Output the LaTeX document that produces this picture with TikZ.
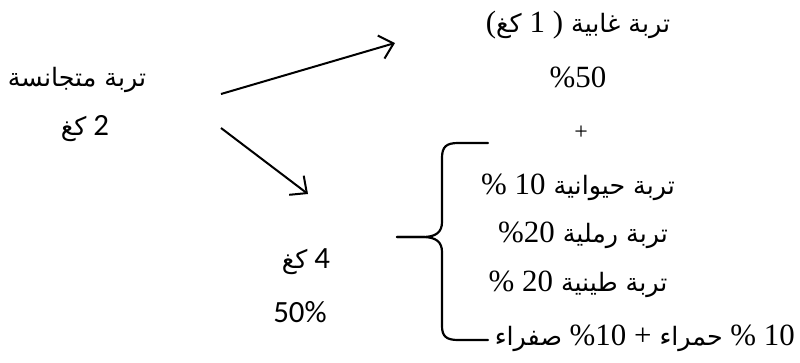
\documentclass[tikz,border=0pt]{standalone}
\usepackage{fontspec}
\setmainfont{Liberation Serif}
\newfontfamily\arf[Script=Arabic,Scale=0.82]{DejaVu Sans}
\newfontfamily\sansdig{Carlito}
\TeXXeTstate=1
\usetikzlibrary{arrows.meta}
\tikzset{
  txt/.style={inner sep=0pt, font=\fontsize{31}{36}\selectfont},
  conn/.style={line width=2bp, -{Straight Barb[length=13bp,width=24bp,line width=2bp]}},
  bracepath/.style={line width=2.2bp, line cap=round}
}
\begin{document}
\begin{tikzpicture}[x=1bp,y=-1bp]
\useasboundingbox (0,0) rectangle (800,362);
% left
\node[txt] (homog) at (77,80) {\arf\beginR تربة متجانسة\endR};
\node[txt] (twokg) at (85,129) {\beginR\sansdig 2 \arf كغ\endR};
% top right
\node[txt] (forest) at (578,25) {\beginR\arf تربة غابية \beginL\rmfamily(\arf كغ \rmfamily 1 )\endL\endR};
\node[txt] (fifty) at (578,77) {\%50};
\node[txt, font=\fontsize{24}{28}\selectfont] (plus) at (581,133) {+};
% bottom
\node[txt] (fourkg) at (306,262) {\beginR\sansdig 4 \arf كغ\endR};
\node[txt] (fiftyb) at (300,312) {\sansdig 50\%};
% list
\node[txt] (animal) at (578,187) {\beginR\arf تربة حيوانية \rmfamily\beginL 10\endL{} \%\endR};
\node[txt] (sand) at (583,235) {\beginR\arf تربة رملية \rmfamily\beginL 20\endL\%\endR};
\node[txt] (clay) at (578,284) {\beginR\arf تربة طينية \rmfamily\beginL 20\endL{} \%\endR};
\node[txt, anchor=east] (mixed) at (795,338) {\beginR\rmfamily\beginL 10\endL{} \% \arf حمراء \rmfamily + \beginL\%10\endL{} \arf صفراء\endR};
% arrows
\coordinate (a1s) at (221,94);
\coordinate (a1e) at (395,43);
\coordinate (a2s) at (221,128);
\coordinate (a2e) at (308,194);
\draw[conn] (a1s) -- (a1e);
\draw[conn] (a2s) -- (a2e);
% brace
\coordinate (btop) at (488,143);
\coordinate (btip) at (397,237);
\coordinate (bbot) at (488,340);
\draw[bracepath] (btop) -- (458,143) .. controls (446,143) and (442,147) .. (442,158)
  -- (442,222) .. controls (442,232) and (436,237) .. (423,237) -- (btip);
\draw[bracepath] (btip) -- (423,237) .. controls (436,237) and (442,242) .. (442,252)
  -- (442,326) .. controls (442,336) and (446,340) .. (458,340) -- (bbot);
\end{tikzpicture}
\end{document}
